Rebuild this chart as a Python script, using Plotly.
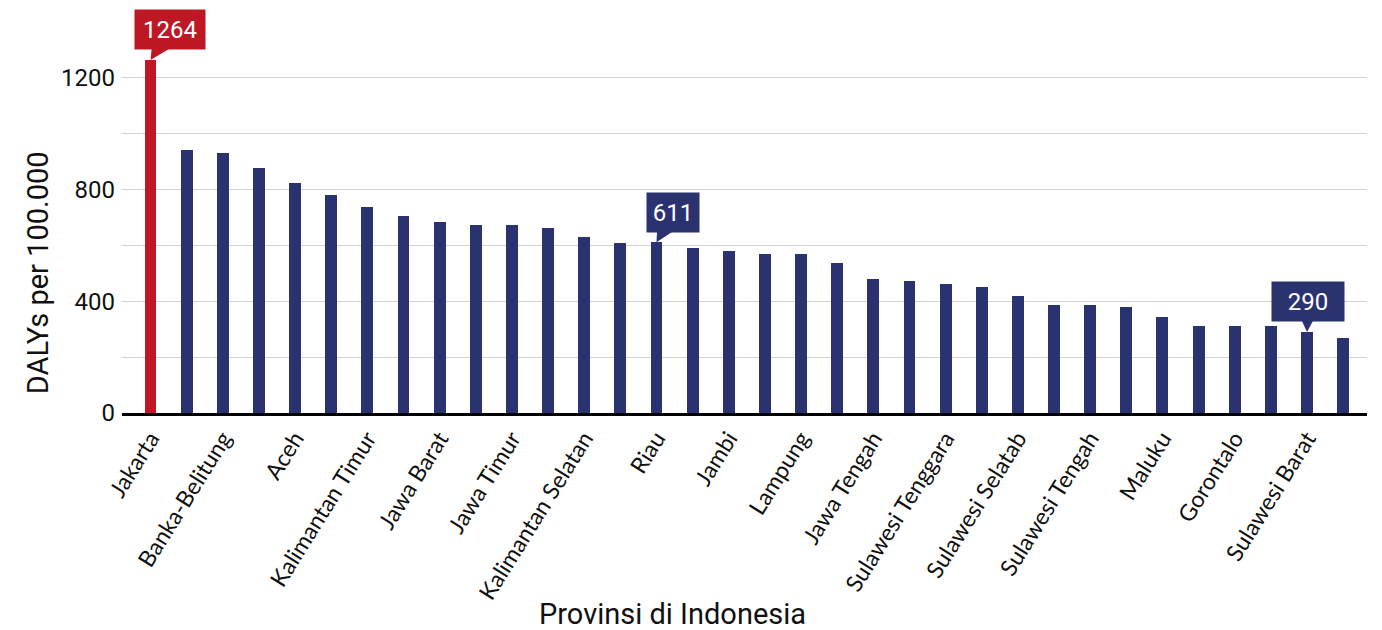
import plotly.graph_objects as go

# DALYs per 100.000 by province, sorted from highest to lowest
values = [1264, 942, 932, 879, 825, 782, 739, 707, 685, 674,
          674, 663, 631, 609, 611, 591, 580, 569, 569, 538,
          480, 474, 463, 452, 420, 388, 388, 381, 345, 313,
          313, 313, 290, 270]

# Province names shown on every second bar
shown_provinces = ["Jakarta", "Banka-Belitung", "Aceh", "Kalimantan Timur",
                   "Jawa Barat", "Jawa Timur", "Kalimantan Selatan", "Riau",
                   "Jambi", "Lampung", "Jawa Tengah", "Sulawesi Tenggara",
                   "Sulawesi Selatab", "Sulawesi Tengah", "Maluku",
                   "Gorontalo", "Sulawesi Barat"]

# Bars that carry a value callout: index -> (dx, dy, box width)
callouts = {0: (19, -30, 70), 14: (17, -30, 52), 32: (1, -31, 72)}

RED = "#BE1824"
NAVY = "#2B3270"

positions = list(range(len(values)))
colors = [RED if i == 0 else NAVY for i in positions]
label_positions = positions[::2]
y_ticks = [0, 200, 400, 600, 800, 1000, 1200]
y_ticktext = [str(v) if v % 400 == 0 else "" for v in y_ticks]

fig = go.Figure()
fig.add_trace(go.Bar(
    x=positions,
    y=values,
    width=0.33,
    marker=dict(color=colors, line=dict(width=0)),
    hoverinfo="skip",
))

annotations = []
for idx, (dx, dy, w) in callouts.items():
    col = RED if idx == 0 else NAVY
    annotations.append(dict(
        x=idx, y=values[idx], xref="x", yref="y",
        text=str(values[idx]),
        showarrow=True, arrowhead=2, arrowsize=2, arrowwidth=2,
        arrowcolor=col, standoff=0,
        ax=dx, ay=dy,
        bgcolor=col, borderpad=0, width=w, height=39,
        font=dict(family="Roboto", size=24, color="white"),
        align="center", valign="middle",
    ))

annotations.append(dict(
    text="Provinsi di Indonesia", xref="paper", yref="paper",
    x=0.442, y=-0.513, xanchor="center", yanchor="middle", showarrow=False,
    font=dict(family="Roboto", size=29, color="#111111"),
))
annotations.append(dict(
    text="DALYs per 100.000", xref="paper", yref="paper",
    x=-0.0675, y=0.36, xanchor="center", yanchor="middle", showarrow=False,
    textangle=-90,
    font=dict(family="Roboto", size=29, color="#111111"),
))

fig.update_layout(
    width=1382, height=630,
    margin=dict(l=122, r=15, t=22, b=217),
    plot_bgcolor="white", paper_bgcolor="white",
    showlegend=False,
    bargap=0,
    annotations=annotations,
    xaxis=dict(
        range=[-0.789, 33.66],
        tickmode="array", tickvals=label_positions, ticktext=shown_provinces,
        tickangle=-58,
        tickfont=dict(family="Lato", size=23, color="#111111"),
        showgrid=False, zeroline=False,
        showline=True, linecolor="black", linewidth=3,
        ticks="",
    ),
    yaxis=dict(
        range=[0, 1400],
        tickmode="array", tickvals=y_ticks, ticktext=y_ticktext,
        tickfont=dict(family="Roboto", size=24, color="#111111"),
        showgrid=True, gridcolor="#d2d2d2", gridwidth=1,
        zeroline=False, showline=False, ticks="",
        ticklabelstandoff=6,
    ),
)

fig.write_html("out.html")
